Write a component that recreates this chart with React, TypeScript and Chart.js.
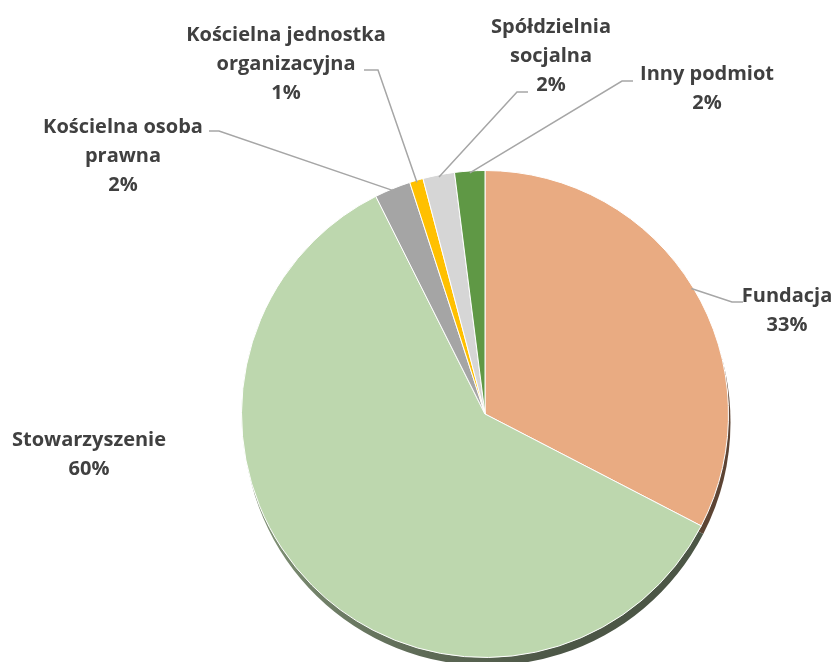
import React, { useEffect, useRef } from "react";
import { Chart, registerables } from "chart.js";

Chart.register(...registerables);

// ---- data ----
const categories = [
  "Fundacja",
  "Stowarzyszenie",
  "Kościelna osoba prawna",
  "Kościelna jednostka organizacyjna",
  "Spółdzielnia socjalna",
  "Inny podmiot",
];
const shares = [32.6, 60.0, 2.4, 0.9, 2.1, 2.0];
const labelLines = [
  ["Fundacja"],
  ["Stowarzyszenie"],
  ["Kościelna osoba", "prawna"],
  ["Kościelna jednostka", "organizacyjna"],
  ["Spółdzielnia", "socjalna"],
  ["Inny podmiot"],
];

// ---- styles / layout ----
const colors = ["#E9AB82", "#BDD7AE", "#A5A5A5", "#FFC000", "#D6D6D6", "#5F9845"];
// label block: centre x, centre y of first line; leader: elbow & end (null = no leader)
const labelLayout = [
  { x: 787, y: 296, elbow: [732, 302], end: [743, 302] },
  { x: 89, y: 440, elbow: null, end: null },
  { x: 123, y: 127, elbow: [219, 131], end: [209, 131] },
  { x: 286, y: 35, elbow: [378, 70], end: [364, 70] },
  { x: 551, y: 27, elbow: [517, 92], end: [528, 92] },
  { x: 707, y: 74, elbow: [622, 81], end: [633, 81] },
];
const LINE_H = 29;
const FONT = "bold 20px 'Open Sans'";
const TEXT_COLOR = "#404040";
const LEADER_COLOR = "#A6A6A6";

function shade(hex: string, f: number) {
  const n = parseInt(hex.slice(1), 16);
  const r = Math.round(((n >> 16) & 255) * f);
  const g = Math.round(((n >> 8) & 255) * f);
  const b = Math.round((n & 255) * f);
  return `rgb(${r},${g},${b})`;
}

const extrudePlugin = {
  id: "extrude",
  beforeDatasetsDraw(chart: any) {
    const ctx = chart.ctx;
    const meta = chart.getDatasetMeta(0);
    meta.data.forEach((arc: any, i: number) => {
      const p = arc.getProps(["x", "y", "startAngle", "endAngle", "outerRadius"], true);
      const dx = 2, dy = 8;
      const g = ctx.createLinearGradient(p.x - p.outerRadius, p.y, p.x + p.outerRadius * 0.3, p.y + p.outerRadius);
      g.addColorStop(0, shade(colors[i], 0.75));
      g.addColorStop(1, shade(colors[i], 0.4));
      ctx.save();
      ctx.beginPath();
      ctx.moveTo(p.x + dx, p.y + dy);
      ctx.arc(p.x + dx, p.y + dy, p.outerRadius, p.startAngle, p.endAngle);
      ctx.closePath();
      ctx.fillStyle = g;
      ctx.fill();
      ctx.restore();
    });
  },
};

const labelPlugin = {
  id: "pieLabels",
  afterDatasetsDraw(chart: any) {
    const ctx = chart.ctx;
    const meta = chart.getDatasetMeta(0);
    const data = chart.data.datasets[0].data as number[];
    const total = data.reduce((a, b) => a + b, 0);
    ctx.save();
    meta.data.forEach((arc: any, i: number) => {
      const p = arc.getProps(["x", "y", "startAngle", "endAngle", "outerRadius"], true);
      const L = labelLayout[i];
      if (L.elbow && L.end) {
        const mid = (p.startAngle + p.endAngle) / 2;
        const sx = p.x + Math.cos(mid) * (p.outerRadius - 2);
        const sy = p.y + Math.sin(mid) * (p.outerRadius - 2);
        ctx.beginPath();
        ctx.moveTo(sx, sy);
        ctx.lineTo(L.elbow[0], L.elbow[1]);
        ctx.lineTo(L.end[0], L.end[1]);
        ctx.strokeStyle = LEADER_COLOR;
        ctx.lineWidth = 1.5;
        ctx.stroke();
      }
      const lines = [...labelLines[i], Math.round((data[i] / total) * 100) + "%"];
      ctx.font = FONT;
      ctx.fillStyle = TEXT_COLOR;
      ctx.textAlign = "center";
      ctx.textBaseline = "middle";
      lines.forEach((t, k) => ctx.fillText(t, L.x, L.y + k * LINE_H));
    });
    ctx.restore();
  },
};

export default function App() {
  const ref = useRef<HTMLCanvasElement | null>(null);
  useEffect(() => {
    if (!ref.current) return;
    const chart = new Chart(ref.current, {
      type: "pie",
      data: {
        labels: categories,
        datasets: [
          {
            data: shares,
            backgroundColor: colors,
            borderColor: "#FFFFFF",
            borderWidth: 1,
          },
        ],
      },
      options: {
        animation: false,
        responsive: true,
        maintainAspectRatio: false,
        layout: { padding: { left: 241, right: 109, top: 170, bottom: 4 } },
        plugins: { legend: { display: false }, tooltip: { enabled: false } },
      },
      plugins: [extrudePlugin, labelPlugin],
    });
    return () => chart.destroy();
  }, []);
  return (
    <div style={{ position: "absolute", left: 0, top: 0, width: 838, height: 662, background: "#fff" }}>
      <canvas ref={ref} />
    </div>
  );
}
